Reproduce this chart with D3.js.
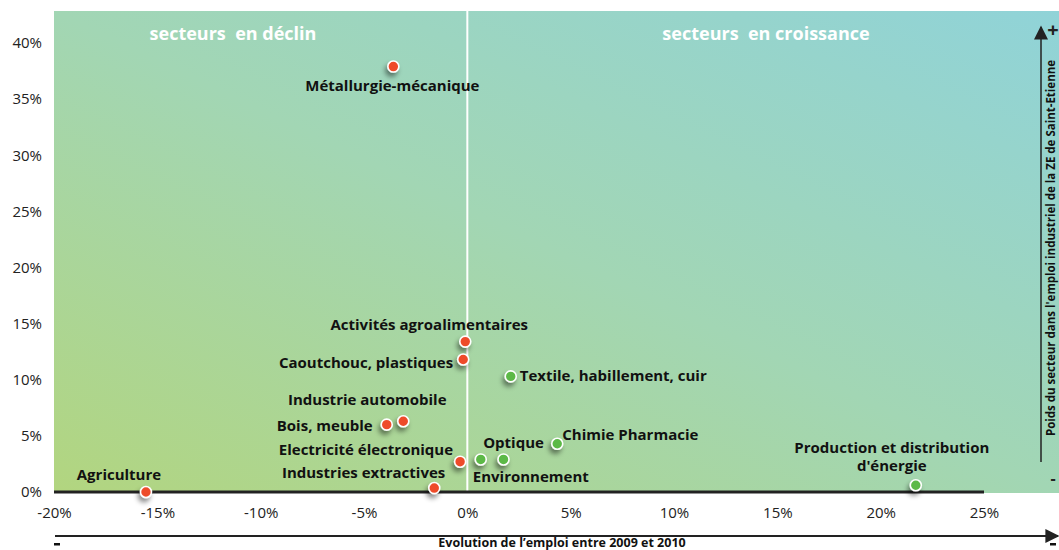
<!DOCTYPE html>
<html>
<head>
<meta charset="utf-8">
<script src="https://cdn.jsdelivr.net/npm/d3@7"></script>
<style>
  body { margin: 0; background: #fff; }
  svg { font-family: "Open Sans", "DejaVu Sans", sans-serif; }
</style>
</head>
<body>
<div id="chart"></div>
<script>
// data (in %)
var sectors = ["Métallurgie-mécanique", "Activités agroalimentaires", "Caoutchouc, plastiques",
  "Textile, habillement, cuir", "Industrie automobile", "Bois, meuble", "Chimie Pharmacie",
  "Electricité électronique", "Optique", "Environnement", "Industries extractives",
  "Agriculture", "Production et distribution d'énergie"];
var growth = [-3.58, -0.1, -0.2, 2.1, -3.1, -3.9, 4.35, -0.35, 1.75, 0.65, -1.6, -15.55, 21.7];
var share = [37.9, 13.4, 11.8, 10.3, 6.3, 6.0, 4.3, 2.7, 2.9, 2.9, 0.35, 0.0, 0.6];
var xTicks = [-20, -15, -10, -5, 0, 5, 10, 15, 20, 25];
var yTicks = [0, 5, 10, 15, 20, 25, 30, 35, 40];

var W = 1059, H = 550;
var svg = d3.select("#chart").append("svg").attr("width", W).attr("height", H);

var x = d3.scaleLinear().domain([-20, 25]).range([54, 984]);
var y = d3.scaleLinear().domain([0, 40]).range([492, 43]);

var defs = svg.append("defs");
var grad = defs.append("linearGradient").attr("id", "bg")
  .attr("x1", "0%").attr("y1", "100%").attr("x2", "100%").attr("y2", "0%");
grad.append("stop").attr("offset", "0%").attr("stop-color", "#b2d57f");
grad.append("stop").attr("offset", "50%").attr("stop-color", "#a2d6b4");
grad.append("stop").attr("offset", "100%").attr("stop-color", "#90d3d8");

var shadow = defs.append("filter").attr("id", "shadow")
  .attr("x", "-100%").attr("y", "-100%").attr("width", "300%").attr("height", "300%");
shadow.append("feDropShadow").attr("dx", -2).attr("dy", 4).attr("stdDeviation", 2.5)
  .attr("flood-color", "#000").attr("flood-opacity", 0.45);

// background panel
svg.append("rect")
  .attr("x", x(-20)).attr("y", 11)
  .attr("width", W - x(-20)).attr("height", y(0) - 11 + 1)
  .attr("fill", "url(#bg)");

// zero vertical line
svg.append("line")
  .attr("x1", x(0)).attr("x2", x(0)).attr("y1", 11).attr("y2", y(0))
  .attr("stroke", "#fff").attr("stroke-width", 2);

// quadrant titles
svg.append("text").attr("x", 233).attr("y", 40).attr("text-anchor", "middle")
  .attr("fill", "#fff").attr("font-weight", "bold").attr("font-size", 18)
  .attr("xml:space", "preserve").text("secteurs  en déclin");
svg.append("text").attr("x", 766).attr("y", 40).attr("text-anchor", "middle")
  .attr("fill", "#fff").attr("font-weight", "bold").attr("font-size", 18)
  .attr("xml:space", "preserve").text("secteurs  en croissance");

// axes
var yAxis = d3.axisLeft(y).tickValues(yTicks).tickSize(0).tickPadding(12)
  .tickFormat(function (d) { return d + "%"; });
var gy = svg.append("g").attr("transform", "translate(" + x(-20) + ",0)").call(yAxis);
gy.select(".domain").remove();
gy.selectAll("text").attr("font-size", 15).attr("fill", "#222")
  .attr("font-family", "'Open Sans', sans-serif");

var xAxis = d3.axisBottom(x).tickValues(xTicks).tickSize(0).tickPadding(15)
  .tickFormat(function (d) { return d + "%"; });
var gx = svg.append("g").attr("transform", "translate(0," + y(0) + ")").call(xAxis);
gx.select(".domain").remove();
gx.selectAll("text").attr("font-size", 15).attr("fill", "#222")
  .attr("font-family", "'Open Sans', sans-serif");

// zero baseline
svg.append("line")
  .attr("x1", x(-20)).attr("x2", x(25)).attr("y1", y(0)).attr("y2", y(0))
  .attr("stroke", "#222").attr("stroke-width", 3);

// arrows
var arrow = defs.append("marker").attr("id", "arr")
  .attr("viewBox", "0 0 10 10").attr("refX", 9).attr("refY", 5)
  .attr("markerWidth", 16).attr("markerHeight", 14).attr("orient", "auto")
  .attr("markerUnits", "userSpaceOnUse");
arrow.append("path").attr("d", "M0,0 L10,5 L0,10 z").attr("fill", "#222");

svg.append("line").attr("x1", 55).attr("x2", 1058).attr("y1", 536).attr("y2", 536)
  .attr("stroke", "#222").attr("stroke-width", 2).attr("marker-end", "url(#arr)");
svg.append("text").attr("x", 562).attr("y", 547).attr("text-anchor", "middle")
  .attr("font-size", 12.5).attr("font-weight", "bold").attr("fill", "#111")
  .text("Evolution de l\u2019emploi entre 2009 et 2010");
svg.append("rect").attr("x", 54).attr("y", 543).attr("width", 6).attr("height", 2.5)
  .attr("fill", "#111");
svg.append("rect").attr("x", 1050).attr("y", 543).attr("width", 6).attr("height", 2.5)
  .attr("fill", "#111");

svg.append("line").attr("x1", 1041).attr("x2", 1041).attr("y1", 462).attr("y2", 27)
  .attr("stroke", "#222").attr("stroke-width", 1.5).attr("marker-end", "url(#arr)");
svg.append("text").attr("x", 1053).attr("y", 37).attr("text-anchor", "middle")
  .attr("font-size", 20).attr("font-weight", "bold").attr("fill", "#222").text("+");
svg.append("text").attr("x", 1053).attr("y", 484).attr("text-anchor", "middle")
  .attr("font-size", 16).attr("font-weight", "bold").attr("fill", "#222").text("-");
svg.append("text")
  .attr("transform", "translate(1055,248) rotate(-90)")
  .attr("text-anchor", "middle").attr("font-size", 11.5).attr("font-weight", "bold")
  .attr("fill", "#111")
  .text("Poids du secteur dans l'emploi industriel de la ZE de Saint-Etienne");

// label placement per sector: [dx, dy, anchor]
var place = {
  "Métallurgie-mécanique": [-1, 24, "middle"],
  "Activités agroalimentaires": [-36, -12, "middle"],
  "Caoutchouc, plastiques": [-10, 8, "end"],
  "Textile, habillement, cuir": [9, 5, "start"],
  "Industrie automobile": [-36, -16, "middle"],
  "Bois, meuble": [-14, 6, "end"],
  "Chimie Pharmacie": [5, -4, "start"],
  "Electricité électronique": [-7, -7, "end"],
  "Optique": [10, -11, "middle"],
  "Environnement": [-8, 23, "start"],
  "Industries extractives": [11, -10, "end"],
  "Agriculture": [-27, -12, "middle"],
  "Production et distribution d'énergie": [-24, -32, "middle"]
};

var data = sectors.map(function (s, i) {
  return { name: s, gx: growth[i], sh: share[i] };
});

var lbl = svg.append("g").selectAll("text").data(data).enter().append("text")
  .attr("x", function (d) { return x(d.gx) + place[d.name][0]; })
  .attr("y", function (d) { return y(d.sh) + place[d.name][1]; })
  .attr("text-anchor", function (d) { return place[d.name][2]; })
  .attr("font-size", 15).attr("font-weight", "bold").attr("fill", "#111");
lbl.each(function (d) {
  var t = d3.select(this);
  if (d.name.indexOf("Production") === 0) {
    t.append("tspan").attr("x", t.attr("x")).text("Production et distribution");
    t.append("tspan").attr("x", t.attr("x")).attr("dy", 18).text("d'énergie");
  } else {
    t.text(d.name);
  }
});

svg.append("g").selectAll("circle").data(data).enter().append("circle")
  .attr("cx", function (d) { return x(d.gx); })
  .attr("cy", function (d) { return y(d.sh); })
  .attr("r", 5.5)
  .attr("fill", function (d) { return d.gx < 0 ? "#ee4b2b" : "#5cb946"; })
  .attr("stroke", "#fff").attr("stroke-width", 1.6)
  .attr("filter", "url(#shadow)");
</script>
</body>
</html>
